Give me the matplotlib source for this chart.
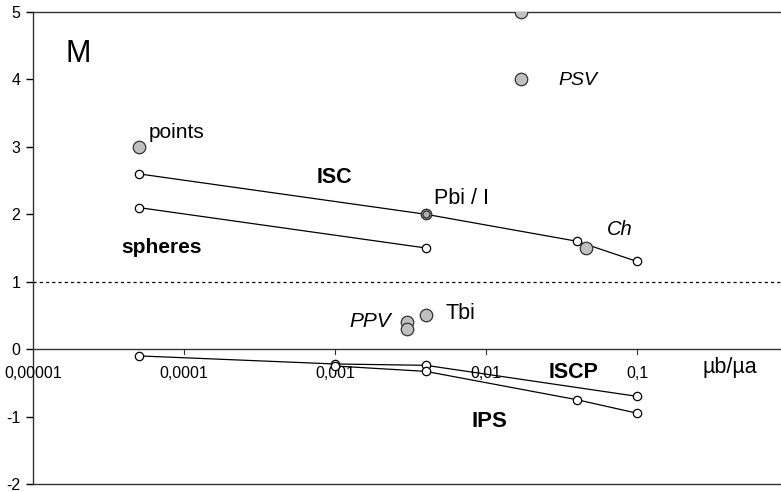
import numpy as np
import matplotlib.pyplot as plt
from matplotlib.ticker import FixedLocator, NullLocator

plt.rcParams["font.family"] = ["Liberation Sans", "DejaVu Sans"]

# open-circle series (lines)
isc_x = [5e-5, 0.004, 0.04, 0.1]
isc_y = [2.6, 2.0, 1.6, 1.3]

spheres_x = [5e-5, 0.004]
spheres_y = [2.1, 1.5]

iscp_x = [5e-5, 0.001, 0.004, 0.1]
iscp_y = [-0.1, -0.22, -0.24, -0.70]

ips_x = [0.001, 0.004, 0.04, 0.1]
ips_y = [-0.25, -0.33, -0.75, -0.95]

# grey single points
pts_x = [5e-5, 0.017, 0.017, 0.046, 0.003, 0.003, 0.004]
pts_y = [3.0, 5.0, 4.0, 1.5, 0.4, 0.3, 0.5]
pbi_x = [0.004]
pbi_y = [2.0]

xticks = [1e-5, 1e-4, 1e-3, 1e-2, 1e-1]
xtick_labels = ["0,00001", "0,0001", "0,001", "0,01", "0,1"]
yticks = [-2, -1, 0, 1, 2, 3, 4, 5]

fig = plt.figure(figsize=(7.81, 4.92), dpi=100)
ax = fig.add_axes([33 / 781, 8 / 492, 748 / 781, 472 / 492])

ax.set_xscale("log")
ax.set_xlim(1e-5, 10 ** (-5 + 748 / 151))
ax.set_ylim(-2, 5)

# spines: x axis sits at y = 0, frame on top/bottom, none on the right
ax.spines["right"].set_visible(False)
for s in ["top", "bottom", "left"]:
    ax.spines[s].set_color("#333333")
    ax.spines[s].set_linewidth(1.0)
ax.axhline(0, color="#333333", lw=1.0, zorder=1)
ax.axhline(1, color="black", lw=0.9, ls=(0, (2.5, 2.5)), zorder=1)

ax.xaxis.set_major_locator(FixedLocator([]))
ax.xaxis.set_minor_locator(NullLocator())
ax.set_yticks(yticks)
ax.set_yticklabels([str(v) for v in yticks])
ax.tick_params(axis="y", direction="out", length=5, width=1, labelsize=11.5, pad=4)

# x ticks and labels drawn along the y = 0 line
for xv, lab in zip(xticks, xtick_labels):
    if xv > 1e-5:
        ax.plot([xv, xv], [0, -0.07], color="#333333", lw=0.8, zorder=1)
    ax.text(xv, -0.36, lab, ha="center", va="center", fontsize=11.5)

line_kw = dict(color="black", lw=0.9, marker="o", markersize=6,
               markerfacecolor="white", markeredgecolor="black",
               markeredgewidth=0.9, zorder=3)
ax.plot(isc_x, isc_y, **line_kw)
ax.plot(spheres_x, spheres_y, **line_kw)
ax.plot(iscp_x, iscp_y, **line_kw)
ax.plot(ips_x, ips_y, **line_kw)

ax.plot(pts_x, pts_y, ls="none", marker="o", markersize=9,
        markerfacecolor="#c0c0c0", markeredgecolor="#333333",
        markeredgewidth=0.9, zorder=4)
ax.plot(pbi_x, pbi_y, ls="none", marker="o", markersize=7.5,
        markerfacecolor="#b0b0b0", markeredgecolor="#333333",
        markeredgewidth=1.0, zorder=4)
ax.plot(pbi_x, pbi_y, ls="none", marker="o", markersize=5,
        markerfacecolor="none", markeredgecolor="#333333",
        markeredgewidth=0.9, zorder=5)

# annotations
ax.text(1.65e-5, 4.38, "M", fontsize=22, ha="left", va="center")
ax.text(5.8e-5, 3.22, "points", fontsize=15, ha="left", va="center")
ax.text(7.6e-4, 2.54, "ISC", fontsize=15.5, fontweight="bold", ha="left", va="center")
ax.text(0.00453, 2.24, "Pbi / I", fontsize=15.5, ha="left", va="center")
ax.text(0.063, 1.78, "Ch", fontsize=14.5, style="italic", ha="left", va="center")
ax.text(3.83e-5, 1.51, "spheres", fontsize=15, fontweight="bold", ha="left", va="center")
ax.text(0.030, 3.99, "PSV", fontsize=14, style="italic", ha="left", va="center")
ax.text(0.00124, 0.415, "PPV", fontsize=15, style="italic", ha="left", va="center")
ax.text(0.00543, 0.53, "Tbi", fontsize=15.5, ha="left", va="center")
ax.text(0.0258, -0.34, "ISCP", fontsize=15.5, fontweight="bold", ha="left", va="center")
ax.text(0.00807, -1.08, "IPS", fontsize=16, fontweight="bold", ha="left", va="center")
ax.text(0.273, -0.27, "µb/µa", fontsize=15.5, ha="left", va="center")

fig.savefig("out.png", dpi=100)
